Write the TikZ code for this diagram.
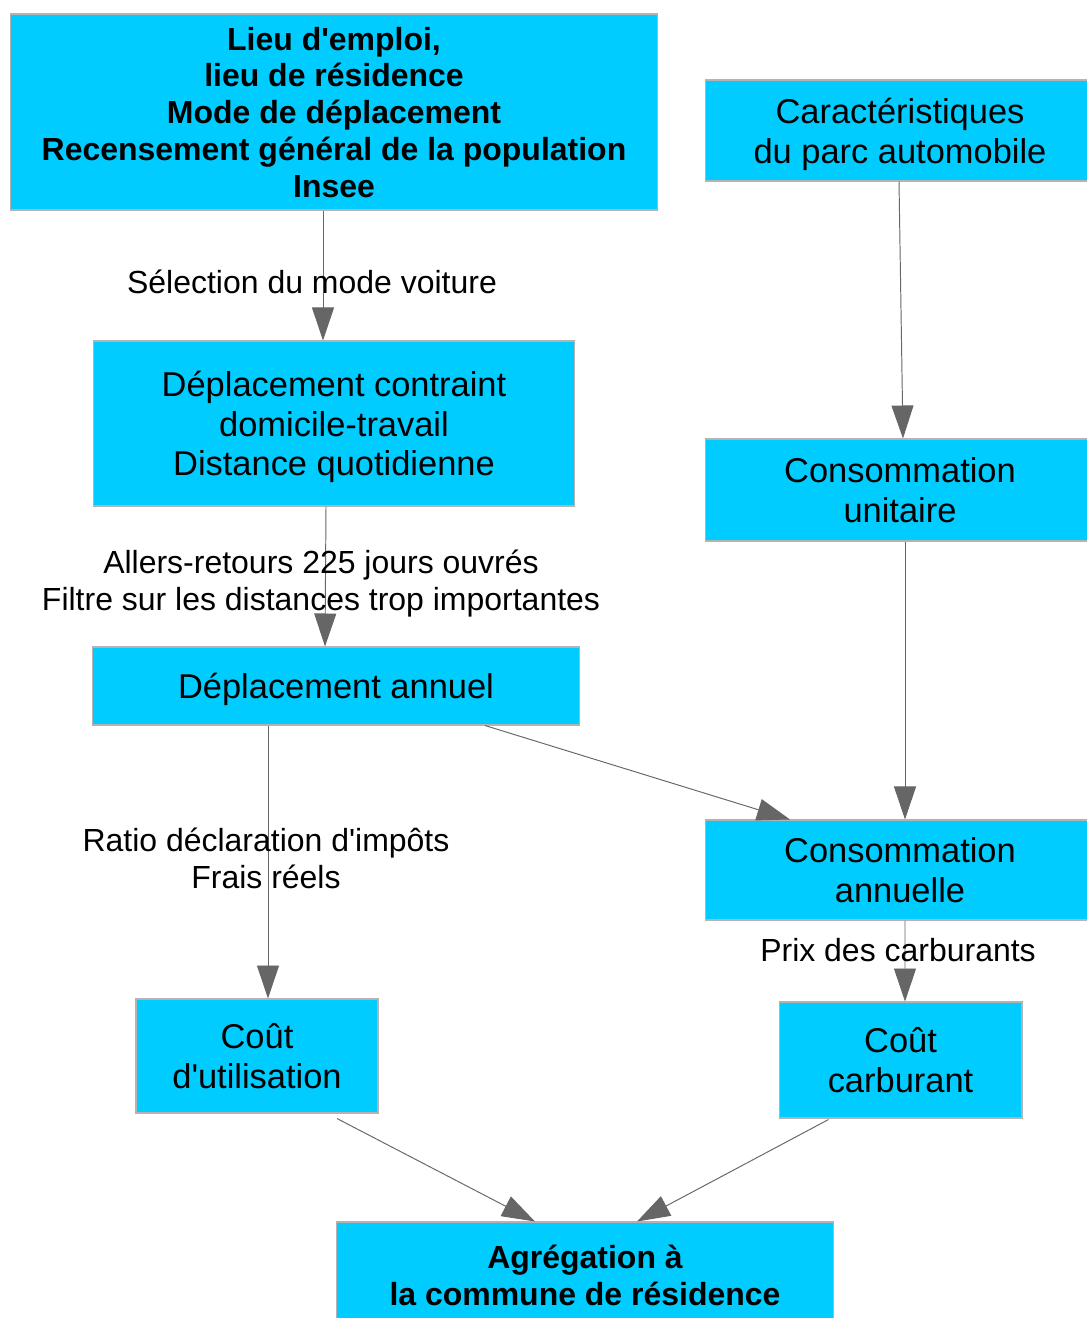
\documentclass[tikz,border=0pt]{standalone}
\usepackage{fontspec}
\setmainfont{Liberation Sans}[Ligatures=TeXOff]
\usetikzlibrary{arrows.meta,calc}
\definecolor{boxcyan}{HTML}{00CCFF}
\definecolor{boxedge}{HTML}{B3B3B3}
\definecolor{linkgray}{HTML}{666666}
\newcommand{\boxfont}{\fontsize{19.6}{22.6}\selectfont}
\newcommand{\labfont}{\fontsize{18.2}{20.9}\selectfont}

\begin{document}
\begin{tikzpicture}[x=0.02cm,y=-0.02cm,
  etape/.style={draw=boxedge, fill=boxcyan, line width=0.6pt, align=center, inner sep=0pt, text depth=0pt, font=\boxfont},
  source/.style={etape, font=\labfont\bfseries},
  lien/.style={draw=linkgray, line width=0.55pt, -{Triangle[length=0.66cm,width=0.44cm]}},
  legende/.style={align=center, font=\labfont, inner sep=0pt, text depth=0pt}]
  \useasboundingbox (0,0) rectangle (1087,1318);

  % boites
  \node[source, minimum width=12.96cm, minimum height=3.92cm] (rgp) at (334,112)
    {Lieu d'emploi,\\lieu de résidence\\Mode de déplacement\\Recensement général de la population\\Insee};
  \node[etape, minimum width=7.8cm, minimum height=2.02cm] (parc) at (900,130.5) {Caractéristiques\\du parc automobile};
  \node[etape, minimum width=9.64cm, minimum height=3.3cm] (contraint) at (334,423.5) {Déplacement contraint\\domicile-travail\\Distance quotidienne};
  \node[etape, minimum width=7.8cm, minimum height=2.04cm] (unitaire) at (900,490) {Consommation\\unitaire};
  \node[etape, minimum width=9.76cm, minimum height=1.56cm] (annuel) at (336,686) {Déplacement annuel};
  \node[etape, minimum width=7.8cm, minimum height=2.0cm] (conso) at (900,870) {Consommation\\annuelle};
  \node[etape, minimum width=4.84cm, minimum height=2.28cm] (utilisation) at (257,1056) {Coût\\d'utilisation};
  \node[etape, minimum width=4.86cm, minimum height=2.32cm] (carburant) at (900.5,1060) {Coût\\carburant};
  \node[source, minimum width=9.96cm, minimum height=2.12cm] (commune) at (585,1275) {Agrégation à\\la commune de résidence};

  % liens
  \draw[lien] ($(rgp.south)+(-11,0)$) -- ($(contraint.north)+(-11,0)$);
  \draw[lien] ($(parc.south)+(-1,0)$) -- ($(unitaire.north)+(3,0)$);
  \draw[lien] ($(contraint.south)+(-8,0)$) -- ($(annuel.north)+(-11,0)$);
  \draw[lien] ($(annuel.south)+(149,0)$) -- ($(conso.north)+(-110,0)$);
  \draw[lien] ($(unitaire.south)+(5,0)$) -- ($(conso.north)+(5,0)$);
  \draw[lien] ($(annuel.south)+(-68,0)$) -- ($(utilisation.north)+(11,0)$);
  \draw[lien] ($(conso.south)+(5,0)$) -- ($(carburant.north)+(4.5,0)$);
  \draw[lien] ($(utilisation.south)+(80,5)$) -- ($(commune.north)+(-50,0)$);
  \draw[lien] ($(carburant.south)+(-72,1)$) -- ($(commune.north)+(52,0)$);

  % legendes
  \node[legende] (selection) at (312,282) {Sélection du mode voiture};
  \node[legende] (allers) at (321,580) {Allers-retours 225 jours ouvrés\\Filtre sur les distances trop importantes};
  \node[legende] (ratio) at (266,858) {Ratio déclaration d'impôts\\Frais réels};
  \node[legende] (prix) at (898,950) {Prix des carburants};
\end{tikzpicture}
\end{document}
